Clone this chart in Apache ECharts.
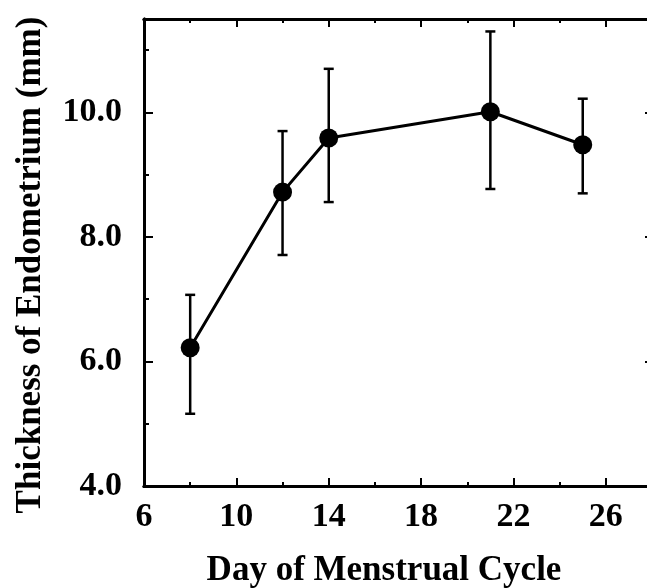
<!DOCTYPE html>
<html>
<head>
<meta charset="utf-8">
<script src="https://cdn.jsdelivr.net/npm/echarts@6/dist/echarts.min.js"></script>
<style>
  html, body { margin: 0; padding: 0; background: #fff; overflow: hidden; }
  #chart { width: 647px; height: 588px; }
</style>
</head>
<body>
<div id="chart"></div>
<script>
// data
const days = [8, 12, 14, 21, 25];
const thickness = [6.22, 8.72, 9.59, 10.01, 9.48];
const errLow = [5.16, 7.71, 8.56, 8.77, 8.70];
const errHigh = [7.07, 9.70, 10.70, 11.30, 10.22];

const xMin = 6, xMax = 28;
const yMin = 4, yMax = 11.5;

const font = 'Liberation Serif';
const ink = '#000';

// 轴的公共样式
function makeX(position, interval, tickLen, opts) {
  return Object.assign({
    type: 'value',
    position: position,
    min: xMin,
    max: xMax,
    interval: interval,
    splitLine: { show: false },
    axisLine: { show: true, onZero: false, lineStyle: { color: ink, width: 3 } },
    axisTick: { show: true, inside: true, length: tickLen, lineStyle: { color: ink, width: 2 } },
    axisLabel: { show: false }
  }, opts || {});
}
function makeY(position, interval, tickLen, opts) {
  return Object.assign({
    type: 'value',
    position: position,
    min: yMin,
    max: yMax,
    interval: interval,
    splitLine: { show: false },
    axisLine: { show: true, onZero: false, lineStyle: { color: ink, width: 3 } },
    axisTick: { show: true, inside: true, length: tickLen, lineStyle: { color: ink, width: 2 } },
    axisLabel: { show: false }
  }, opts || {});
}

const chart = echarts.init(document.getElementById('chart'));

const option = {
  backgroundColor: '#fff',
  animation: false,
  // 右边框在画面外，关掉 outerBounds 限制
  grid: { left: 144, top: 19, width: 508, height: 467, containLabel: false, outerBoundsMode: 'none' },
  xAxis: [
    makeX('bottom', 4, 8, {
      name: 'Day of Menstrual Cycle',
      nameLocation: 'middle',
      nameGap: 67,
      nameTextStyle: { fontFamily: font, fontWeight: 'bold', fontSize: 35, color: ink, padding: [0, 28, 0, 0] },
      axisLabel: {
        show: true, showMaxLabel: false, margin: 14,
        fontFamily: font, fontWeight: 'bold', fontSize: 34, color: ink
      }
    }),
    makeX('bottom', 2, 4),
    makeX('top', 4, 8),
    makeX('top', 2, 4)
  ],
  yAxis: [
    makeY('left', 2, 9, {
      name: 'Thickness of Endometrium (mm)',
      nameLocation: 'middle',
      nameGap: 96,
      nameRotate: 90,
      nameTextStyle: { fontFamily: font, fontWeight: 'bold', fontSize: 35, color: ink, padding: [0, 25, 0, 0] },
      axisLabel: {
        show: true, showMaxLabel: false, margin: 22,
        fontFamily: font, fontWeight: 'bold', fontSize: 34, color: ink,
        formatter: v => v.toFixed(1)
      }
    }),
    makeY('left', 1, 5),
    makeY('right', 2, 7),
    makeY('right', 1, 4)
  ],
  series: [
    {
      type: 'custom',
      xAxisIndex: 0,
      yAxisIndex: 0,
      data: days.map((d, i) => [d, errLow[i], errHigh[i]]),
      renderItem: function (params, api) {
        const lo = api.coord([api.value(0), api.value(1)]);
        const hi = api.coord([api.value(0), api.value(2)]);
        const cap = 5;
        const style = { stroke: ink, lineWidth: 2.5 };
        return {
          type: 'group',
          children: [
            { type: 'line', shape: { x1: lo[0], y1: lo[1], x2: hi[0], y2: hi[1] }, style: style },
            { type: 'line', shape: { x1: lo[0] - cap, y1: lo[1], x2: lo[0] + cap, y2: lo[1] }, style: style },
            { type: 'line', shape: { x1: hi[0] - cap, y1: hi[1], x2: hi[0] + cap, y2: hi[1] }, style: style }
          ]
        };
      },
      z: 2
    },
    {
      type: 'line',
      xAxisIndex: 0,
      yAxisIndex: 0,
      data: days.map((d, i) => [d, thickness[i]]),
      symbol: 'circle',
      symbolSize: 19,
      itemStyle: { color: ink },
      lineStyle: { color: ink, width: 3 },
      z: 3
    }
  ]
};

chart.setOption(option);
</script>
</body>
</html>
